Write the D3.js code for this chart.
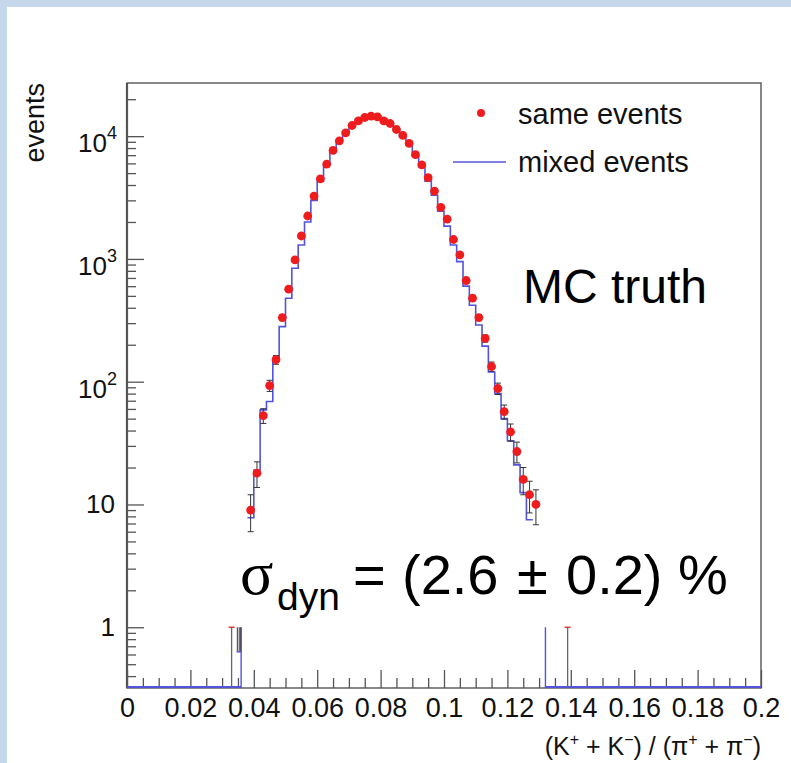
<!DOCTYPE html>
<html>
<head>
<meta charset="utf-8">
<script src="https://cdn.jsdelivr.net/npm/d3@7"></script>
<style>
  html, body { margin: 0; padding: 0; background: #c6d7ec; }
  svg { display: block; }
</style>
</head>
<body>
<svg id="chart" width="791" height="763"></svg>
<script>
// ---- data -------------------------------------------------------------
const binWidth = 0.002;

// same events: counts per bin, first bin [0.038, 0.040]
const sameFirstEdge = 0.038;
const sameCounts = [9, 18, 53, 93, 151, 333, 567, 981, 1538, 2237,
  3252, 4496, 5920, 7650, 9160, 10640, 12210, 13310, 14190, 14540,
  14360, 13310, 12680, 11330, 10130, 8730, 7080, 5840, 4590, 3570,
  2630, 2110, 1440, 1080, 667, 479, 333, 225, 133, 88,
  57, 39, 27, 16, 12, 10];

// isolated same-event entries outside the main peak
const sameStray = [ { x: 0.033, v: 1 }, { x: 0.139, v: 1 } ];

// mixed events (normalised), first bin [0.038, 0.040]
const mixedFirstEdge = 0.038;
const mixedCounts = [7.8, 19, 59, 69, 156, 281, 479, 840, 1300, 2000,
  3000, 4300, 5800, 7600, 9300, 10900, 12500, 13700, 14500, 14800,
  14600, 13800, 12800, 11400, 10000, 8500, 6900, 5600, 4300, 3300,
  2450, 1850, 1300, 950, 600, 420, 290, 195, 120, 80,
  50, 33, 21, 12.5, 7.5];

// edges where the mixed histogram rises off the floor
const mixedRiseEdges = [ { x: 0.036, v: 1 }, { x: 0.132, v: 1 } ];
// small mixed-event bin left of the peak, with its error bars
const mixedStray = { lo: 0.0346, hi: 0.036, v: 0.63, errTop: 1, bars: [0.0348, 0.0354, 0.0359] };

const xTicks = [0, 0.02, 0.04, 0.06, 0.08, 0.1, 0.12, 0.14, 0.16, 0.18, 0.2];
const xTickLabels = ["0", "0.02", "0.04", "0.06", "0.08", "0.1", "0.12", "0.14", "0.16", "0.18", "0.2"];
const yDecades = [1, 10, 100, 1000, 10000];
const yTickLabels = [ {base: "1", sup: ""}, {base: "10", sup: ""}, {base: "10", sup: "2"},
                      {base: "10", sup: "3"}, {base: "10", sup: "4"} ];

const legendItems = ["same events", "mixed events"];

// ---- layout ------------------------------------------------------------
const W = 791, H = 763;
const frame = { left: 127, right: 761, top: 83, bottom: 688 };
const sans = "'Liberation Sans', Arial, Helvetica, sans-serif";
const serif = "'Liberation Serif', 'DejaVu Serif', serif";
const RED = "#ee1c1c", BLUE = "#5353dc", BAR = "#333";

const svg = d3.select("#chart");

// panel
svg.append("rect").attr("x", 0).attr("y", 0).attr("width", W).attr("height", H).attr("fill", "#c6d7ec");
svg.append("rect").attr("x", 7).attr("y", 7).attr("width", W - 7).attr("height", H - 7).attr("fill", "#ffffff");

const x = d3.scaleLinear().domain([0, 0.2]).range([frame.left, frame.right]);
const y = d3.scaleLog().domain([0.32, 27100]).range([frame.bottom, frame.top]).clamp(true);
const yFloor = frame.bottom;

// ---- axes ---------------------------------------------------------------
const xMinor = d3.range(0, 0.2001, 0.005).filter(v => Math.abs(v / 0.02 - Math.round(v / 0.02)) > 1e-6);
svg.append("g")
  .attr("transform", `translate(0,${frame.bottom})`)
  .call(d3.axisBottom(x).tickValues(xMinor).tickSize(-10).tickFormat(""))
  .call(g => g.select(".domain").remove())
  .call(g => g.selectAll("line").attr("stroke", "#555").attr("stroke-width", 1.3));

svg.append("g")
  .attr("transform", `translate(0,${frame.bottom})`)
  .call(d3.axisBottom(x).tickValues(xTicks).tickSizeInner(-18).tickSizeOuter(0).tickPadding(10)
        .tickFormat((d, i) => xTickLabels[i]))
  .call(g => g.select(".domain").remove())
  .call(g => g.selectAll("line").attr("stroke", "#555").attr("stroke-width", 1.3))
  .call(g => g.selectAll("text").attr("font-family", sans).attr("font-size", 27).attr("fill", "#111"));

const yMinor = [];
[0.1, 1, 10, 100, 1000, 10000].forEach(dec => {
  for (let k = 2; k <= 9; k++) {
    const v = dec * k;
    if (v > y.domain()[0] && v < y.domain()[1]) yMinor.push(v);
  }
});
svg.append("g")
  .attr("transform", `translate(${frame.left},0)`)
  .call(d3.axisLeft(y).tickValues(yMinor).tickSize(-9).tickFormat(""))
  .call(g => g.select(".domain").remove())
  .call(g => g.selectAll("line").attr("stroke", "#555").attr("stroke-width", 1.3));
svg.append("g")
  .attr("transform", `translate(${frame.left},0)`)
  .call(d3.axisLeft(y).tickValues(yDecades).tickSize(-17).tickFormat(""))
  .call(g => g.select(".domain").remove())
  .call(g => g.selectAll("line").attr("stroke", "#555").attr("stroke-width", 1.3));

// y tick labels with superscript exponents
const yLab = svg.append("g").attr("font-family", sans).attr("fill", "#111");
yDecades.forEach((d, i) => {
  const lab = yTickLabels[i];
  const t = yLab.append("text")
    .attr("x", lab.sup ? 117 : 115)
    .attr("y", y(d) + (lab.sup ? 16 : 9))
    .attr("text-anchor", "end")
    .attr("font-size", 26);
  t.append("tspan").text(lab.base);
  if (lab.sup) t.append("tspan").attr("font-size", 18).attr("dy", -13).text(lab.sup);
});

// frame
svg.append("rect")
  .attr("x", frame.left).attr("y", frame.top)
  .attr("width", frame.right - frame.left).attr("height", frame.bottom - frame.top)
  .attr("fill", "none").attr("stroke", "#555").attr("stroke-width", 1.4);
svg.append("line")
  .attr("x1", frame.left).attr("x2", frame.left).attr("y1", frame.top).attr("y2", frame.bottom)
  .attr("stroke", "#555").attr("stroke-width", 2.2);

// ---- mixed events histogram ---------------------------------------------
const plot = svg.append("g");
const mixedBins = mixedCounts.map((v, i) => ({
  lo: mixedFirstEdge + i * binWidth, hi: mixedFirstEdge + (i + 1) * binWidth, v }));
const stepPts = [];
mixedBins.forEach(b => { stepPts.push([x(b.lo), y(b.v)], [x(b.hi), y(b.v)]); });
plot.append("path")
  .attr("d", d3.line()(stepPts))
  .attr("fill", "none").attr("stroke", BLUE).attr("stroke-width", 1.6);

// empty bins lie on the floor of the log axis
const floorRuns = [[x.domain()[0], mixedRiseEdges[0].x], [mixedRiseEdges[1].x, x.domain()[1]]];
floorRuns.forEach(r => {
  plot.append("line").attr("x1", x(r[0])).attr("x2", x(r[1]))
    .attr("y1", yFloor - 1).attr("y2", yFloor - 1)
    .attr("stroke", BLUE).attr("stroke-width", 2);
});
mixedRiseEdges.forEach(e => {
  plot.append("line").attr("x1", x(e.x)).attr("x2", x(e.x))
    .attr("y1", yFloor).attr("y2", y(e.v))
    .attr("stroke", BLUE).attr("stroke-width", 1.4);
});
mixedStray.bars.forEach(b => {
  plot.append("line").attr("x1", x(b)).attr("x2", x(b))
    .attr("y1", y(mixedStray.v)).attr("y2", y(mixedStray.errTop))
    .attr("stroke", BAR).attr("stroke-width", 1);
});
plot.append("line").attr("x1", x(mixedStray.lo)).attr("x2", x(mixedStray.hi))
  .attr("y1", y(mixedStray.v)).attr("y2", y(mixedStray.v))
  .attr("stroke", BLUE).attr("stroke-width", 1.4);

// ---- same events: error bars and markers ----------------------------------
const sameBins = sameCounts.map((v, i) => ({ c: sameFirstEdge + (i + 0.5) * binWidth, v }));
const errG = plot.append("g").attr("stroke", BAR).attr("stroke-width", 1);
sameBins.forEach(b => {
  const e = Math.sqrt(b.v);
  const yl = y(Math.max(b.v - e, y.domain()[0])), yh = y(b.v + e);
  const cx = x(b.c);
  errG.append("line").attr("x1", cx).attr("x2", cx).attr("y1", yl).attr("y2", yh);
  errG.append("line").attr("x1", cx - 3).attr("x2", cx + 3).attr("y1", yl).attr("y2", yl);
  errG.append("line").attr("x1", cx - 3).attr("x2", cx + 3).attr("y1", yh).attr("y2", yh);
});
sameStray.forEach(s => {
  plot.append("line").attr("x1", x(s.x)).attr("x2", x(s.x))
    .attr("y1", yFloor).attr("y2", y(s.v))
    .attr("stroke", "#666").attr("stroke-width", 1.3);
  plot.append("line").attr("x1", x(s.x) - 3).attr("x2", x(s.x) + 3)
    .attr("y1", y(s.v)).attr("y2", y(s.v))
    .attr("stroke", RED).attr("stroke-width", 1.3);
});
plot.append("g").selectAll("circle").data(sameBins).join("circle")
  .attr("cx", d => x(d.c)).attr("cy", d => y(d.v)).attr("r", 4.4)
  .attr("fill", RED);

// ---- legend -------------------------------------------------------------
const leg = svg.append("g").attr("font-family", sans).attr("font-size", 29).attr("fill", "#111");
leg.append("circle").attr("cx", 481).attr("cy", 113).attr("r", 4).attr("fill", RED);
leg.append("text").attr("x", 518).attr("y", 124).text(legendItems[0]);
leg.append("line").attr("x1", 453).attr("x2", 506).attr("y1", 162).attr("y2", 162)
  .attr("stroke", BLUE).attr("stroke-width", 1.6);
leg.append("text").attr("x", 518).attr("y", 172).text(legendItems[1]);

// ---- annotations ----------------------------------------------------------
svg.append("text").attr("x", 523).attr("y", 303)
  .attr("font-family", sans).attr("font-size", 48).attr("fill", "#000").text("MC truth");

const sig = svg.append("g").attr("fill", "#000");
sig.append("text").attr("x", 240).attr("y", 594)
  .attr("font-family", serif).attr("font-size", 62).text("σ");
sig.append("text").attr("x", 277).attr("y", 610)
  .attr("font-family", sans).attr("font-size", 39).text("dyn");
sig.append("text").attr("x", 353).attr("y", 594)
  .attr("font-family", sans).attr("font-size", 56).text("=");
sig.append("text").attr("x", 402).attr("y", 594)
  .attr("font-family", sans).attr("font-size", 56).text("(2.6");
sig.append("text").attr("x", 517).attr("y", 594)
  .attr("font-family", sans).attr("font-size", 56).text("±");
sig.append("text").attr("x", 566).attr("y", 594)
  .attr("font-family", sans).attr("font-size", 56).text("0.2) %");

// axis titles
svg.append("text")
  .attr("transform", `translate(44,${frame.top}) rotate(-90)`)
  .attr("text-anchor", "end")
  .attr("font-family", sans).attr("font-size", 27).attr("fill", "#111")
  .text("events");

const xt = svg.append("text").attr("x", frame.right).attr("y", 755)
  .attr("text-anchor", "end").attr("font-family", sans).attr("font-size", 25).attr("fill", "#111");
const xtParts = [["(K", ""], ["+", "sup"], [" + K", ""], ["−", "sup"], [") / (π", ""],
                 ["+", "sup"], [" + π", ""], ["−", "sup"], [")", ""]];
let raised = false;
xtParts.forEach(([s, kind]) => {
  const ts = xt.append("tspan").text(s);
  if (kind === "sup" && !raised) { ts.attr("dy", -10).attr("font-size", 16); raised = true; }
  else if (kind === "sup") { ts.attr("font-size", 16); }
  else if (raised) { ts.attr("dy", 10); raised = false; }
});
</script>
</body>
</html>
